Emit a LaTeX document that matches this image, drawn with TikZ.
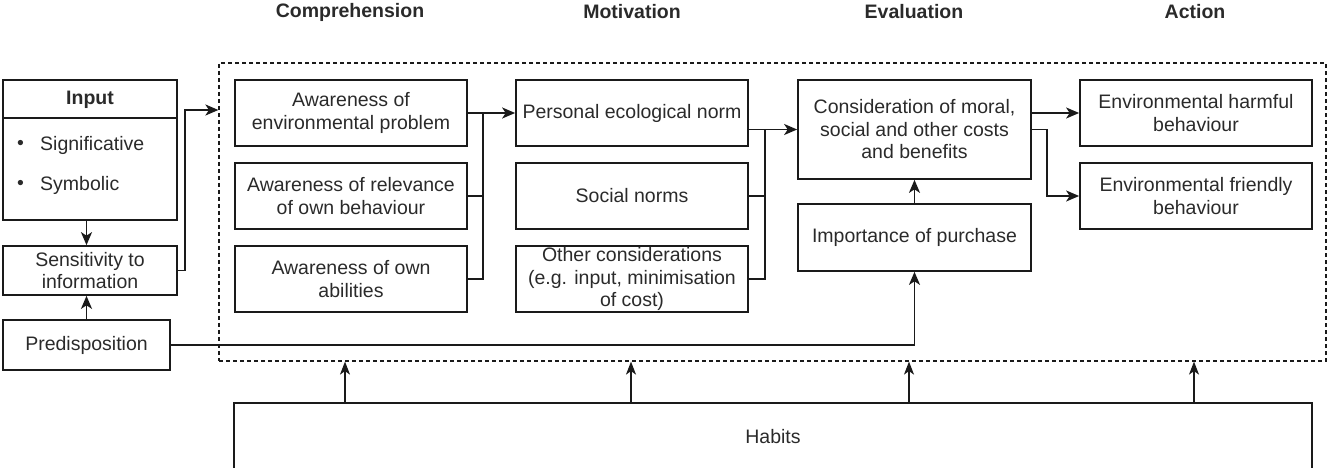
\documentclass[tikz,border=0pt]{standalone}
\usepackage{fontspec}
\setmainfont{Liberation Sans}
\usetikzlibrary{arrows.meta,calc}
\definecolor{ink}{HTML}{1A1A1A}
\definecolor{txt}{HTML}{2A2A2A}
\tikzset{
  box/.style={draw=ink, line width=1.7pt, rectangle, inner sep=0pt, align=center,
    text=txt, font=\fontsize{19.5}{22.5}\selectfont},
  head/.style={inner sep=0pt, text=txt, font=\fontsize{19.5}{22.5}\selectfont\bfseries},
  plain/.style={inner sep=0pt, text=txt, font=\fontsize{19.5}{22.5}\selectfont},
  wire/.style={draw=ink, line width=1.7pt},
  arr/.style={wire, -{Stealth[length=13pt,width=11pt,inset=3.5pt]}},
  thinarr/.style={draw=ink, line width=1.2pt, -{Stealth[length=13pt,width=10pt,inset=3.5pt]}},
  frame/.style={draw=ink, line width=1.2pt, dash pattern=on 4pt off 3pt, rectangle, inner sep=0pt}
}
\begin{document}
\begin{tikzpicture}[x=1pt,y=-1pt]
\useasboundingbox (0,0) rectangle (1328,468);
\clip (0,0) rectangle (1328,468);

% column headings
\node[head] (hc) at (350,12) {Comprehension};
\node[head] (hm) at (632,12) {Motivation};
\node[head] (he) at (914,12) {Evaluation};
\node[head] (ha) at (1195,12) {Action};

% dashed frame around the four stages
\node[frame, minimum width=1107pt, minimum height=298pt] (frame) at (772.5,212) {};

% input side
\node[box, minimum width=174pt, minimum height=140pt] (input) at (90,150) {};
\draw[wire] (3,118) -- (177,118);
\node[head] (inputlbl) at (90,100) {Input};
\node[plain, anchor=west] (b1) at (17,145) {\textbullet};
\node[plain, anchor=west] (s1) at (40,145) {Significative};
\node[plain, anchor=west] (b2) at (17,185) {\textbullet};
\node[plain, anchor=west] (s2) at (40,185) {Symbolic};
\node[box, minimum width=174pt, minimum height=49pt] (sens) at (90,270.5) {Sensitivity to\\information};
\node[box, minimum width=167pt, minimum height=50pt] (pred) at (86.5,345) {Predisposition};

% comprehension
\node[box, minimum width=232pt, minimum height=66pt] (aw1) at (351,113) {Awareness of\\environmental problem};
\node[box, minimum width=232pt, minimum height=66pt] (aw2) at (351,196) {Awareness of relevance\\of own behaviour};
\node[box, minimum width=232pt, minimum height=66pt] (aw3) at (351,279) {Awareness of own\\abilities};

% motivation
\node[box, minimum width=232pt, minimum height=66pt] (mo1) at (632,113) {Personal ecological norm};
\node[box, minimum width=232pt, minimum height=66pt] (mo2) at (632,196) {Social norms};
\node[box, minimum width=232pt, minimum height=66pt] (mo3) at (632,279) {Other considerations\\(e.g. input, minimisation\\of cost)};

% evaluation
\node[box, minimum width=233pt, minimum height=99pt] (cons) at (914.5,129.5) {Consideration of moral,\\social and other costs\\and benefits};
\node[box, minimum width=233pt, minimum height=67pt] (imp) at (914.5,237.5) {Importance of purchase};

% action
\node[box, minimum width=232pt, minimum height=66pt] (harm) at (1196,113) {Environmental harmful\\behaviour};
\node[box, minimum width=232pt, minimum height=66pt] (friend) at (1196,196) {Environmental friendly\\behaviour};

% habits
\node[box, minimum width=1078pt, minimum height=80pt, anchor=north] (habits) at (773,402) {};
\node[plain] (habitslbl) at (773,437) {Habits};

% junction points
\coordinate (jin) at (185,110);
\coordinate (jc) at (483,113);
\coordinate (jm) at (765,129.5);
\coordinate (je) at (1047,129.5);

% input side connectors
\draw[arr] (input.south -| pred.north) -- (sens.north -| pred.north);
\draw[arr] (pred.north) -- (sens.south -| pred.north);
\draw[arr] (sens.east) -| (jin) -- (frame.west |- jin);
\draw[arr] (pred.east) -| (imp.south);

% comprehension to motivation
\draw[arr] (aw1.east) -- (mo1.west);
\draw[wire] (aw2.east) -| (jc);
\draw[wire] (aw3.east) -| (jc);

% motivation to evaluation
\draw[arr] (mo1.east |- jm) -- (cons.west);
\draw[wire] (mo2.east) -| (jm);
\draw[wire] (mo3.east) -| (jm);

% evaluation
\draw[arr] (imp.north) -- (cons.south);
\draw[arr] (cons.east |- harm.west) -- (harm.west);
\draw[arr] (cons.east) -- (je) |- (friend.west);

% habits feed every stage
\foreach \hx/\nm in {345/h1,631/h2,909/h3,1194/h4}{
  \coordinate (\nm) at (\hx,0);
  \draw[thinarr] (habits.north -| \nm) -- (frame.south -| \nm);
}
\end{tikzpicture}
\end{document}
